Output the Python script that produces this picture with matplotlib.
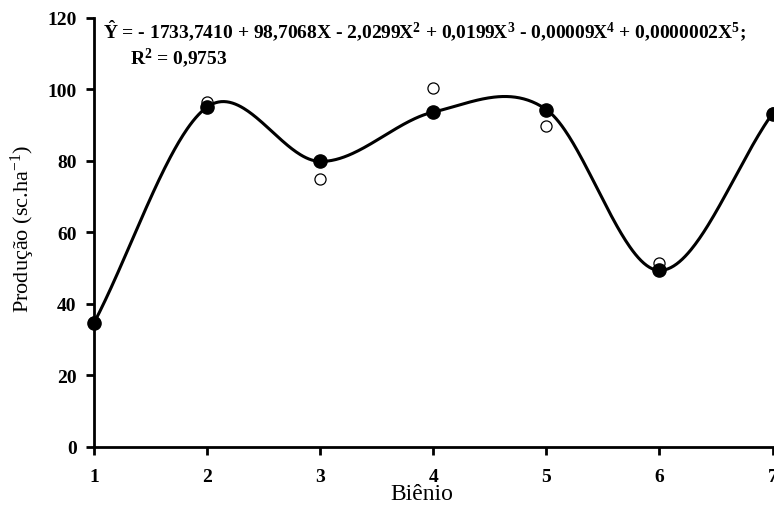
import numpy as np
import matplotlib
matplotlib.use("Agg")
import matplotlib.pyplot as plt

plt.rcParams['font.family'] = ['Liberation Serif', 'DejaVu Serif']
plt.rcParams['mathtext.fontset'] = 'custom'
plt.rcParams['mathtext.rm'] = 'Liberation Serif:bold'
plt.rcParams['mathtext.bf'] = 'Liberation Serif:bold'
plt.rcParams['mathtext.it'] = 'Liberation Serif:bold'

bienio = [1, 2, 3, 4, 5, 6, 7]
observed = [34.8, 96.5, 75.0, 100.2, 89.6, 51.5, 93.3]
predicted = [34.6, 95.0, 79.8, 93.6, 94.3, 49.3, 93.2]
yticks = [0, 20, 40, 60, 80, 100, 120]
xlabel = "Biênio"
ylabel = "Produção (sc.ha$^{\\mathregular{-1}}$)"
eq_line1 = (r"$\hat{\mathrm{Y}}$ = - 1733,7410 + 98,7068X - 2,0299X$^{2}$ + 0,0199X$^{3}$"
            r" - 0,00009X$^{4}$ + 0,0000002X$^{5}$;")
eq_line2 = r"R$^{2}$ = 0,9753"


def smooth_curve(x, y, n_per=80):
    """Catmull-Rom style smooth line through the points."""
    x = np.asarray(x, float)
    y = np.asarray(y, float)
    n = len(x)
    m = np.zeros(n)
    m[0] = (y[1] - y[0]) / (x[1] - x[0])
    m[-1] = (y[-1] - y[-2]) / (x[-1] - x[-2])
    for i in range(1, n - 1):
        m[i] = (y[i + 1] - y[i - 1]) / (x[i + 1] - x[i - 1])
    xs_all, ys_all = [], []
    for i in range(n - 1):
        h = x[i + 1] - x[i]
        t = np.linspace(0, 1, n_per, endpoint=(i == n - 2))
        h00 = 2 * t ** 3 - 3 * t ** 2 + 1
        h10 = t ** 3 - 2 * t ** 2 + t
        h01 = -2 * t ** 3 + 3 * t ** 2
        h11 = t ** 3 - t ** 2
        xs_all.append(x[i] + t * h)
        ys_all.append(h00 * y[i] + h10 * h * m[i] + h01 * y[i + 1] + h11 * h * m[i + 1])
    return np.concatenate(xs_all), np.concatenate(ys_all)


fig = plt.figure(figsize=(7.74, 5.10), dpi=100)
ax = fig.add_axes([0.1214, 0.1222, 0.8767, 0.8411])

cx, cy = smooth_curve(bienio, predicted)
ax.plot(cx, cy, color='black', lw=2.2, clip_on=False, zorder=2,
        solid_capstyle='round')

ax.plot(bienio, observed, linestyle='none', marker='o', markersize=8.0,
        markerfacecolor='white', markeredgecolor='black', markeredgewidth=0.9,
        clip_on=False, zorder=3)
ax.plot(bienio, predicted, linestyle='none', marker='o', markersize=9.5,
        markerfacecolor='black', markeredgecolor='black',
        clip_on=False, zorder=4)

ax.set_xlim(1, 7)
ax.set_ylim(0, 120)
ax.set_xticks(bienio)
ax.set_yticks(yticks)
for s in ['top', 'right']:
    ax.spines[s].set_visible(False)
for s in ['left', 'bottom']:
    ax.spines[s].set_linewidth(2.0)
ax.spines['bottom'].set_bounds(1, 7.05)
ax.tick_params(direction='out', length=6, width=2.0, labelsize=14)
ax.tick_params(axis='x', pad=9.5)
ax.tick_params(axis='y', pad=6.5)
for lab in ax.get_xticklabels() + ax.get_yticklabels():
    lab.set_fontweight('bold')

xl = ax.set_xlabel(xlabel, fontsize=17)
xl.set_va('baseline')
ax.xaxis.set_label_coords(0.483, -0.122)
yl = ax.set_ylabel(ylabel, fontsize=16)
yl.set_va('center')
yl.set_ha('center')
ax.yaxis.set_label_coords(-0.105, 0.51)

fig.text(0.133, 0.9255, eq_line1, fontsize=14, fontweight='bold', va='baseline')
fig.text(0.168, 0.8745, eq_line2, fontsize=14, fontweight='bold', va='baseline')

fig.savefig("out.png", dpi=100)
